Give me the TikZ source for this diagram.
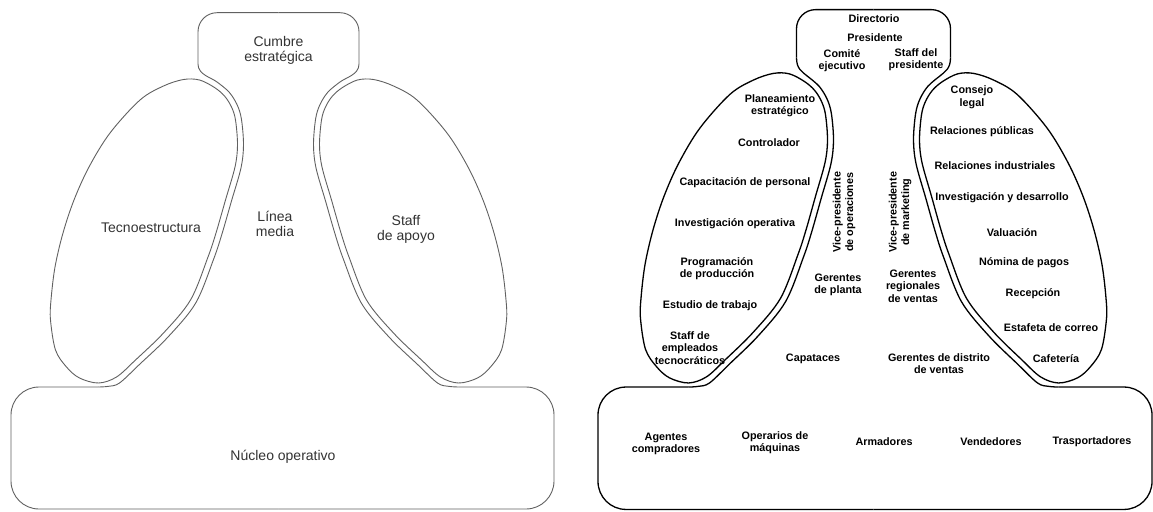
\documentclass[tikz,border=0pt]{standalone}
\usepackage{fontspec}
\setmainfont{Liberation Sans}
\tikzset{
  lineL/.style={draw=black!62, line width=0.9pt},
  lineR/.style={draw=black, line width=1.3pt},
  txtL/.style={font=\fontsize{14}{15}\selectfont, text=black!80, align=center, inner sep=0pt},
  txtR/.style={font=\fontsize{10.8}{12.5}\selectfont\bfseries, text=black, align=center, inner sep=0pt}
}
% #1 lobe shift, #2 half width of top box, #3 side of base box, #4 top y, #5 bottom y
\newcommand{\halfshape}[5]{%
  \draw[rounded corners=28pt] ({-180-#1},387) -- (#3,387) -- (#3,#5) -- (0,#5);
  \draw[rounded corners=19pt] (-#2,64) -- (-#2,#4) -- (0,#4);
  \draw plot[smooth, tension=0.55] coordinates {({-180-#1},387) ({-170-#1},386.3) ({-159-#1},383) ({-139-#1},364.4) ({-110.6-#1},337.1) ({-82.9-#1},303.2) ({-64.9-#1},259.2) ({-56.7-#1},234.5) ({-47.2-#1},201.6) ({-37.6-#1},168.3) ({-35-#1},145) ({-37.1-#1},119) ({-41.5-#1},104.5) ({-49.5-#1},92) ({-60.8-#1},82.5)}
     .. controls ({-67-#1},77.4) and (-#2,75) .. (-#2,64);
  \draw[shift={(-#1,0)}] plot[smooth cycle, tension=0.55] coordinates {(-95,79.5) (-79,80) (-64,87.5) (-54,96) (-47,107) (-43,120) (-41,145) (-43.5,167) (-53,200) (-62.5,233) (-70.5,257) (-88,300) (-115,333) (-143,360) (-162,377) (-180,383) (-199,378) (-212,367) (-223,350) (-228,320) (-227.5,300) (-223.5,267) (-215.5,233) (-204.5,200) (-189.5,167) (-168.5,133) (-138.5,100) (-115,86)};
}
\begin{document}
\begin{tikzpicture}[x=1pt, y=-1pt]
\useasboundingbox (0,0) rectangle (1153,511);
\fill[white] (0,0) rectangle (1153,511);

% left diagram
\begin{scope}[shift={(278.5,0)}, lineL]
  \halfshape{0}{80.5}{-267.5}{12.7}{509}
  \begin{scope}[xscale=-1]
    \halfshape{0}{80.5}{-275.5}{12.7}{509}
  \end{scope}
\end{scope}

% right diagram
\begin{scope}[shift={(873.5,0)}, lineR]
  \begin{scope}[cm={1,0,0,1.02,(0pt,7.7pt)}]
    \halfshape{5}{77}{-275.5}{17}{507}
    \begin{scope}[xscale=-1]
      \halfshape{5}{77}{-278.5}{17}{507}
    \end{scope}
  \end{scope}
\end{scope}

% left texts
\node[txtL] (cumbre) at (278.5,50) {Cumbre\\estratégica};
\node[txtL] (linea) at (275,223.5) {Línea\\media};
\node[txtL] (tecno) at (151,228) {Tecnoestructura};
\node[txtL] (apoyo) at (406,229.5) {Staff\\de apoyo};
\node[txtL] (nucleo) at (283,457) {Núcleo operativo};

% right texts: top
\node[txtR] (direc) at (874,19) {Directorio};
\node[txtR] (presi) at (875,38) {Presidente};
\node[txtR] (comite) at (842,60.5) {Comité\\ejecutivo};
\node[txtR] (staffp) at (916,59.5) {Staff del\\presidente};
% left lobe
\node[txtR] (plane) at (780,105.5) {Planeamiento\\estratégico};
\node[txtR] (contr) at (769,143) {Controlador};
\node[txtR] (capac) at (745,183) {Capacitación de personal};
\node[txtR] (invop) at (735,224) {Investigación operativa};
\node[txtR] (progr) at (717,268.5) {Programación\\de producción};
\node[txtR] (estud) at (710,306) {Estudio de trabajo};
\node[txtR] (stec) at (690,348) {Staff de\\empleados\\tecnocráticos};
% middle
\node[txtR, rotate=90] (vpop) at (844,212) {Vice-presidente\\de operaciones};
\node[txtR, rotate=90] (vpmk) at (900,212) {Vice-presidente\\de marketing};
\node[txtR] (gerpl) at (838,285) {Gerentes\\de planta};
\node[txtR] (gerreg) at (913,286) {Gerentes\\regionales\\de ventas};
\node[txtR] (capat) at (813,359) {Capataces};
\node[txtR] (gerdis) at (939,363.5) {Gerentes de distrito\\de ventas};
% right lobe
\node[txtR] (consejo) at (972,97) {Consejo\\legal};
\node[txtR] (relpub) at (982,132) {Relaciones públicas};
\node[txtR] (relind) at (995,166) {Relaciones industriales};
\node[txtR] (invdes) at (1002,198) {Investigación y desarrollo};
\node[txtR] (valu) at (1012,233) {Valuación};
\node[txtR] (nomina) at (1024,263) {Nómina de pagos};
\node[txtR] (recep) at (1033,294) {Recepción};
\node[txtR] (estaf) at (1051,328) {Estafeta de correo};
\node[txtR] (cafet) at (1056,359) {Cafetería};
% bottom
\node[txtR] (agentes) at (666,444) {Agentes\\compradores};
\node[txtR] (operar) at (775,442.5) {Operarios de\\máquinas};
\node[txtR] (armad) at (884,442) {Armadores};
\node[txtR] (vended) at (991,442) {Vendedores};
\node[txtR] (trasp) at (1092,442) {Trasportadores};
\end{tikzpicture}
\end{document}
